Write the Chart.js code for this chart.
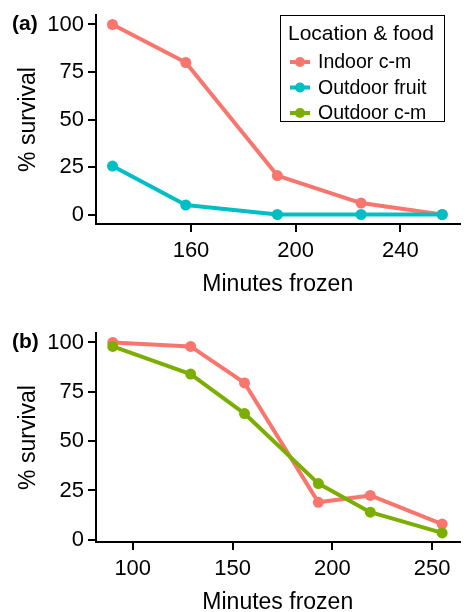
<!DOCTYPE html>
<html>
<head>
<meta charset="utf-8">
<script src="https://cdn.jsdelivr.net/npm/chart.js@4/dist/chart.umd.min.js"></script>
<style>
  html, body { margin: 0; padding: 0; background: #fff; }
  #wrap { position: relative; width: 465px; height: 612px; }
  canvas { position: absolute; left: 0; }
  #chartA { top: 0; }
  #chartB { top: 318px; }
</style>
</head>
<body>
<div id="wrap">
  <canvas id="chartA" width="465" height="294"></canvas>
  <canvas id="chartB" width="465" height="294"></canvas>
</div>
<script>
// series names + colours (ggplot hue palette)
const seriesNames = ["Indoor c-m", "Outdoor fruit", "Outdoor c-m"];
const seriesColors = ["#F8766D", "#00BFC4", "#7CAE00"];

// panel (a)
const minutesA = [130, 158, 193, 225, 256];
const indoorA = [100, 80, 20.5, 6, 0];
const fruitA = [25.5, 5, 0, 0, 0];
const xTicksA = [160, 200, 240];

// panel (b)
const minutesB = [90, 129, 156, 193, 219, 255];
const indoorB = [100, 98, 79.5, 19, 22.5, 8];
const outdoorB = [98, 84, 64, 28.5, 14, 3.5];
const xTicksB = [100, 150, 200, 250];

const yTicks = [0, 25, 50, 75, 100];

const FONT = "'Liberation Sans', Arial, Helvetica, sans-serif";

function pts(xs, ys) {
  return xs.map((x, i) => ({ x: x, y: ys[i] }));
}

function series(idx, xs, ys, order) {
  return {
    label: seriesNames[idx],
    data: pts(xs, ys),
    borderColor: seriesColors[idx],
    backgroundColor: seriesColors[idx],
    borderWidth: 4,
    pointRadius: 5.5,
    pointBorderWidth: 0,
    pointHoverRadius: 5.5,
    borderJoinStyle: "round",
    borderCapStyle: "round",
    tension: 0,
    order: order,
  };
}

const panelLabel = {
  id: "panelLabel",
  afterDraw(chart, args, opts) {
    const ctx = chart.ctx;
    ctx.save();
    ctx.font = "bold 21px " + FONT;
    ctx.fillStyle = "#000";
    ctx.textAlign = "left";
    ctx.textBaseline = "middle";
    ctx.fillText(opts.text, 12, chart.scales.y.getPixelForValue(100));
    ctx.restore();
  },
};

const boxLegend = {
  id: "boxLegend",
  afterDraw(chart, args, opts) {
    if (!opts.show) return;
    const ctx = chart.ctx;
    ctx.save();
    ctx.strokeStyle = "#000";
    ctx.lineWidth = 1;
    ctx.strokeRect(280.5, 15.5, 164, 106);
    ctx.fillStyle = "#000";
    ctx.textBaseline = "middle";
    ctx.textAlign = "left";
    ctx.font = "21px " + FONT;
    ctx.fillText("Location & food", 288, 34);
    ctx.font = "19.5px " + FONT;
    seriesNames.forEach((name, i) => {
      const y = 62 + i * 25.5;
      ctx.strokeStyle = seriesColors[i];
      ctx.lineWidth = 4;
      ctx.beginPath();
      ctx.moveTo(290, y);
      ctx.lineTo(310, y);
      ctx.stroke();
      ctx.fillStyle = seriesColors[i];
      ctx.beginPath();
      ctx.arc(300, y, 5, 0, Math.PI * 2);
      ctx.fill();
      ctx.fillStyle = "#000";
      ctx.fillText(name, 318, y + 1);
    });
    ctx.restore();
  },
};

function makeChart(id, datasets, xMin, xMax, xTicks, yMin, yMax, label, showLegend) {
  const ctx = document.getElementById(id).getContext("2d");
  return new Chart(ctx, {
    type: "line",
    data: { datasets: datasets },
    options: {
      responsive: false,
      animation: false,
      events: [],
      layout: { padding: { left: 0, right: 0, top: 12, bottom: 0 } },
      plugins: {
        legend: { display: false },
        tooltip: { enabled: false },
        panelLabel: { text: label },
        boxLegend: { show: showLegend },
      },
      scales: {
        x: {
          type: "linear",
          min: xMin,
          max: xMax,
          afterBuildTicks: (s) => { s.ticks = xTicks.map((v) => ({ value: v })); },
          afterFit: (s) => { s.height = 70; },
          border: { display: true, color: "#000", width: 2 },
          grid: { drawOnChartArea: false, drawTicks: true, tickLength: 8, color: "#000", lineWidth: 2 },
          ticks: { color: "#000", font: { family: FONT, size: 22, lineHeight: 1 }, padding: 8, maxRotation: 0 },
          title: { display: true, text: "Minutes frozen", color: "#000", font: { family: FONT, size: 23, lineHeight: 1 }, padding: { top: 0, bottom: -2 } },
        },
        y: {
          type: "linear",
          min: yMin,
          max: yMax,
          afterBuildTicks: (s) => { s.ticks = yTicks.map((v) => ({ value: v })); },
          afterFit: (s) => { s.width = 96; },
          border: { display: true, color: "#000", width: 2 },
          grid: { drawOnChartArea: false, drawTicks: true, tickLength: 8, color: "#000", lineWidth: 2 },
          ticks: { color: "#000", font: { family: FONT, size: 22, lineHeight: 1 }, padding: 4 },
          title: { display: true, text: "% survival", color: "#000", font: { family: FONT, size: 23, lineHeight: 1 }, padding: { top: 17, bottom: 0 } },
        },
      },
    },
    plugins: [panelLabel, boxLegend],
  });
}

makeChart("chartA",
  [series(0, minutesA, indoorA, 2), series(1, minutesA, fruitA, 1)],
  123.7, 262.6, xTicksA, -5, 105, "(a)", true);

makeChart("chartB",
  [series(0, minutesB, indoorB, 2), series(2, minutesB, outdoorB, 1)],
  81.6, 263.7, xTicksB, -1.1, 104.8, "(b)", false);
</script>
</body>
</html>
